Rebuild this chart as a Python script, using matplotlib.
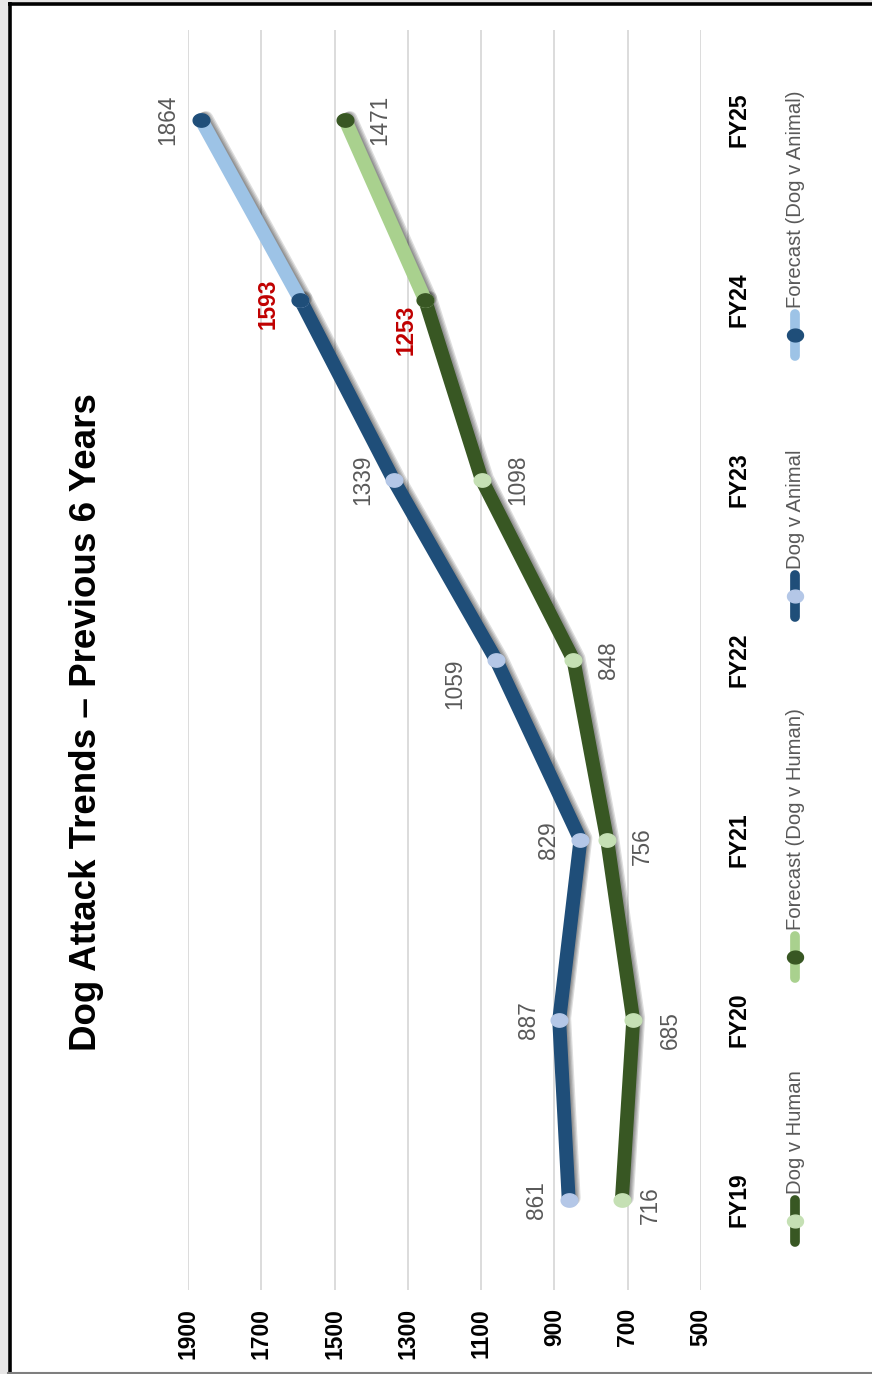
import numpy as np
import matplotlib
matplotlib.use("Agg")
import matplotlib.pyplot as plt
import matplotlib.patheffects as pe
from matplotlib import font_manager

# police proche de Calibri (étirée dans l'image d'origine)
noms = {f.name for f in font_manager.fontManager.ttflist}
police = "Liberation Sans Narrow" if "Liberation Sans Narrow" in noms else "Liberation Sans"
plt.rcParams["font.family"] = [police, "DejaVu Sans"]

# --- données ---
annees = ["FY19", "FY20", "FY21", "FY22", "FY23", "FY24", "FY25"]
chien_animal = [861, 887, 829, 1059, 1339, 1593]
chien_humain = [716, 685, 756, 848, 1098, 1253]
prev_animal = [1593, 1864]
prev_humain = [1253, 1471]
graduations = [500, 700, 900, 1100, 1300, 1500, 1700, 1900]
titre = "Dog Attack Trends \u2013 Previous 6 Years"
legendes = ["Dog v Human", "Forecast (Dog v Human)", "Dog v Animal", "Forecast (Dog v Animal)"]

# couleurs
bleu_fonce = "#1F4E79"
bleu_clair = "#B4C7E7"
bleu_prev = "#9DC3E6"
vert_fonce = "#385723"
vert_clair = "#C5E0B4"
vert_prev = "#A9D18E"
gris_txt = "#595959"
rouge = "#C00000"

W, H = 872, 1374
fig = plt.figure(figsize=(W / 100, H / 100), dpi=100)
fig.patch.set_facecolor("white")

# calque en pixels pour le cadre, le titre et la légende
fond = fig.add_axes([0, 0, 1, 1])
fond.set_xlim(0, W)
fond.set_ylim(H, 0)
fond.axis("off")
fond.add_patch(plt.Rectangle((0, 0), 8, H, color="#E7E6E6", lw=0))
fond.add_patch(plt.Rectangle((0, 0), W, 2, color="#E7E6E6", lw=0))
fond.plot([9.5, 9.5], [2, H], color="black", lw=2.6, solid_capstyle="butt")
fond.plot([8, W], [3.5, 3.5], color="black", lw=2.6, solid_capstyle="butt")
fond.plot([8, W], [1373, 1373], color="#7F7F7F", lw=1.5)

fond.text(86, 722, titre, rotation=90, ha="center", va="center",
          fontsize=26.5, fontweight="bold", color="black")

# ombre douce : plusieurs ombres légères empilées
ombre = [pe.SimpleLineShadow(offset=(k * 0.9, k * 0.35), shadow_color="black", alpha=0.13)
         for k in range(1, 5)] + [pe.Normal()]

# légende (verticale)
ellipse = np.linspace(0, 2 * np.pi, 60)
marqueur = list(zip(1.25 * np.cos(ellipse), np.sin(ellipse)))
styles = [(vert_fonce, vert_clair), (vert_prev, vert_fonce),
          (bleu_fonce, bleu_clair), (bleu_prev, bleu_fonce)]
y_leg = [1221, 957, 596, 335]
for (c_ligne, c_marq), yl, nom in zip(styles, y_leg, legendes):
    fond.plot([795, 795], [yl + 21, yl - 21], color=c_ligne, lw=7, solid_capstyle="round")
    fond.plot([795], [yl], marker=marqueur, ms=11.5, color=c_marq, mec=c_marq)
    fond.text(795, yl - 27, nom, rotation=90, ha="center", va="bottom",
              fontsize=14.6, color=gris_txt)

# --- graphique principal (pivoté de 90°) ---
gauche, droite, haut, bas = 188, 701, 30, 1290
ax = fig.add_axes([gauche / W, 1 - bas / H, (droite - gauche) / W, (bas - haut) / H])
ax.patch.set_alpha(0)
ax.set_xlim(1900, 500)
ax.set_ylim(-0.5, len(annees) - 0.5)

for g in graduations:
    ax.axvline(g, color="#D9D9D9", lw=1.3, zorder=0)

pos = np.arange(len(annees))


def trace(valeurs, positions, c_ligne, c_marq):
    ax.plot(valeurs, positions, color=c_ligne, lw=10, solid_capstyle="round",
            solid_joinstyle="round", path_effects=ombre, zorder=2)
    ax.plot(valeurs, positions, ls="none", marker=marqueur, ms=12, color=c_marq,
            mec=c_marq, zorder=3)


trace(chien_animal, pos[:6], bleu_fonce, bleu_clair)
trace(chien_humain, pos[:6], vert_fonce, vert_clair)
trace(prev_animal, pos[5:7], bleu_prev, bleu_fonce)
trace(prev_humain, pos[5:7], vert_prev, vert_fonce)

# étiquettes de données : décalages en pixels (droite, bas)
dec_animal = [(-32, 0), (-31, 0), (-32, 0), (-41, 24), (-31, 0), (-32, 4)]
dec_humain = [(29, 5), (37, 10), (35, 6), (35, 0), (36, 0), (-19, 30)]
dec_prev_animal = [(-33, 0)]
dec_prev_humain = [(35, 0)]


def etiquettes(valeurs, positions, decalages, rouge_dernier=False):
    for i, (v, p, (dx, dy)) in enumerate(zip(valeurs, positions, decalages)):
        en_rouge = rouge_dernier and i == len(valeurs) - 1
        ax.annotate(str(v), (v, p), xytext=(dx, -dy), textcoords="offset pixels",
                    rotation=90, ha="center", va="center", fontsize=16.3,
                    color=rouge if en_rouge else gris_txt,
                    fontweight="bold" if en_rouge else "normal", zorder=4)


etiquettes(chien_animal, pos[:6], dec_animal, rouge_dernier=True)
etiquettes(chien_humain, pos[:6], dec_humain, rouge_dernier=True)
etiquettes(prev_animal[1:], pos[6:7], dec_prev_animal)
etiquettes(prev_humain[1:], pos[6:7], dec_prev_humain)

ax.set_xticks(graduations)
ax.set_xticklabels([str(g) for g in graduations], rotation=90, fontweight="bold", fontsize=16.5)
ax.set_yticks(pos)
ax.set_yticklabels(annees, rotation=90, fontweight="bold", fontsize=16.5, va="center")
ax.yaxis.tick_right()
ax.tick_params(axis="x", length=0, pad=13)
ax.tick_params(axis="y", length=0, pad=19)
for s in ax.spines.values():
    s.set_visible(False)

fig.savefig("out.png", dpi=100)
